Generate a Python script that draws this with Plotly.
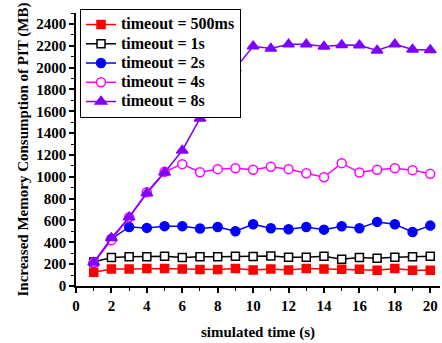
import plotly.graph_objects as go

time_s = list(range(1, 21))
t500ms = [125, 156, 156, 161, 160, 156, 150, 150, 161, 146, 156, 147, 160, 156, 153, 153, 144, 160, 144, 144]
t1s = [220, 260, 269, 269, 272, 260, 269, 269, 272, 271, 275, 263, 263, 272, 245, 260, 254, 263, 269, 272]
t2s = [213, 431, 541, 532, 548, 548, 526, 541, 501, 565, 529, 519, 541, 516, 547, 529, 587, 565, 495, 553]
t4s = [215, 420, 630, 859, 1046, 1116, 1042, 1070, 1079, 1064, 1092, 1070, 1033, 996, 1125, 1039, 1064, 1079, 1061, 1027]
t8s = [215, 440, 630, 850, 1040, 1241, 1535, 1780, 1993, 2195, 2174, 2213, 2213, 2193, 2207, 2204, 2156, 2213, 2165, 2162]

series = [
    ("timeout = 500ms", t500ms, "#ff0000", "square", "#ff0000", 8),
    ("timeout = 1s", t1s, "#000000", "square", "white", 8),
    ("timeout = 2s", t2s, "#0000ff", "circle", "#0000ff", 9),
    ("timeout = 4s", t4s, "#ff00ff", "circle", "white", 9),
    ("timeout = 8s", t8s, "#8000ff", "triangle-up", "#8000ff", 10),
]

FONT = "Liberation Serif, Times New Roman, serif"

fig = go.Figure()
for name, vals, color, sym, fill, size in series:
    fig.add_trace(go.Scatter(
        x=time_s, y=vals, name='<span style="font-size:16px">' + name + '</span>',
        mode="lines+markers",
        line=dict(color=color, width=1.5),
        marker=dict(symbol=sym, size=size, color=fill,
                    line=dict(color=color, width=1.5)),
    ))

fig.update_layout(
    width=442, height=343,
    margin=dict(l=76, r=2, t=13, b=57),
    paper_bgcolor="white", plot_bgcolor="white",
    font=dict(family=FONT, size=15, color="black", weight="bold"),
    showlegend=True,
    legend=dict(x=0.011, y=1.015, xanchor="left", yanchor="top",
                bordercolor="black", borderwidth=1, bgcolor="white",
                font=dict(family=FONT, size=12.5, color="black", weight="bold"),
                tracegroupgap=0, itemwidth=30),
)
fig.update_xaxes(
    range=[0, 20.55], tickmode="array", tickvals=list(range(0, 21, 2)),
    showgrid=False, zeroline=False, showline=True, linecolor="black", linewidth=1.5,
    ticks="outside", ticklen=5, tickwidth=1.5, tickcolor="black",
    minor=dict(tickvals=list(range(1, 21, 2)), ticks="outside", ticklen=3, tickwidth=1, tickcolor="black"),
    title=dict(text="simulated time (s)", font=dict(family=FONT, size=15, weight="bold"), standoff=14),
    tickfont=dict(family=FONT, size=15, weight="bold"),
)
fig.update_yaxes(
    range=[0, 2500], tickmode="array", tickvals=list(range(0, 2401, 200)),
    showgrid=False, zeroline=False, showline=True, linecolor="black", linewidth=1.5,
    ticks="outside", ticklen=5, tickwidth=1.5, tickcolor="black",
    minor=dict(tickvals=list(range(100, 2501, 200)), ticks="outside", ticklen=3, tickwidth=1, tickcolor="black"),
    title=dict(text="Increased Memory Consumption of PIT (MB)", font=dict(family=FONT, size=15, weight="bold"), standoff=4),
    tickfont=dict(family=FONT, size=15, weight="bold"),
)

fig.write_html("out.html")
